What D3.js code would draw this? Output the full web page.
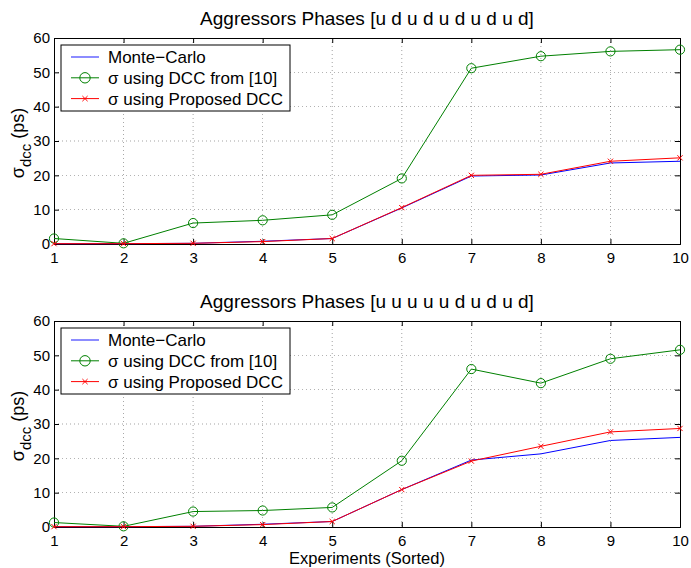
<!DOCTYPE html>
<html>
<head>
    <script src="https://d3js.org/d3.v7.min.js"></script>
    <style>
        body { margin: 0; background: #fff; }
        text { font-family: "Liberation Sans", Arial, sans-serif; }
    </style>
</head>
<body>
    <div id="cont"></div>
    <script>
        // data
        var experiments = [1, 2, 3, 4, 5, 6, 7, 8, 9, 10];
        var yTicks = [0, 10, 20, 30, 40, 50, 60];

        var titleTop = "Aggressors Phases [u d u d u d u d u d]";
        var mcTop = [0.1, 0.1, 0.2, 0.8, 1.6, 10.5, 19.8, 20.1, 23.6, 24.1];
        var dccTop = [1.6, 0.2, 6.1, 6.9, 8.5, 19.1, 51.2, 54.7, 56.1, 56.6];
        var propTop = [0.1, 0.1, 0.2, 0.7, 1.6, 10.6, 20.0, 20.3, 24.1, 25.1];

        var titleBot = "Aggressors Phases [u u u u u d u d u d]";
        var mcBot = [0.1, 0.1, 0.2, 0.8, 1.6, 10.9, 19.5, 21.3, 25.2, 26.1];
        var dccBot = [1.3, 0.2, 4.5, 4.8, 5.7, 19.3, 46.0, 41.9, 49.0, 51.6];
        var propBot = [0.1, 0.1, 0.2, 0.7, 1.6, 10.9, 19.2, 23.5, 27.7, 28.7];

        var legendLabels = ["Monte\u2212Carlo", "\u03c3 using DCC from [10]", "\u03c3 using Proposed DCC"];

        var svg = d3.select("#cont").append("svg")
            .attr("width", 691)
            .attr("height", 568);

        var left = 54, right = 680;
        var r = 4.6, s = 2.6;

        var x = d3.scaleLinear().domain([1, 10]).range([left, right]);

        function cross(cx, cy) {
            return "M" + (cx - s) + "," + (cy - s) + "L" + (cx + s) + "," + (cy + s) +
                "M" + (cx - s) + "," + (cy + s) + "L" + (cx + s) + "," + (cy - s);
        }

        function drawPanel(top, bottom, title, mc, dcc, prop, xlabel) {
            var y = d3.scaleLinear().domain([0, 60]).range([bottom, top]);
            var g = svg.append("g");

            // grid
            g.selectAll(".gx").data(experiments.slice(1, -1)).enter()
                .append("line")
                .attr("x1", function (d) { return x(d); })
                .attr("x2", function (d) { return x(d); })
                .attr("y1", top).attr("y2", bottom)
                .attr("stroke", "#000").attr("stroke-width", 0.6)
                .attr("stroke-dasharray", "1,3").attr("opacity", 0.6);
            g.selectAll(".gy").data(yTicks.slice(1, -1)).enter()
                .append("line")
                .attr("y1", function (d) { return y(d); })
                .attr("y2", function (d) { return y(d); })
                .attr("x1", left).attr("x2", right)
                .attr("stroke", "#000").attr("stroke-width", 0.6)
                .attr("stroke-dasharray", "1,3").attr("opacity", 0.6);

            // axes (ticks inward, on all sides)
            var ax = g.append("g").attr("transform", "translate(0," + bottom + ")")
                .call(d3.axisBottom(x).tickValues(experiments).tickSize(-5).tickPadding(8).tickFormat(d3.format("d")));
            var axTop = g.append("g").attr("transform", "translate(0," + top + ")")
                .call(d3.axisTop(x).tickValues(experiments).tickSize(-5).tickFormat(""));
            var ay = g.append("g").attr("transform", "translate(" + left + ",0)")
                .call(d3.axisLeft(y).tickValues(yTicks).tickSize(-5).tickPadding(4));
            var ayR = g.append("g").attr("transform", "translate(" + right + ",0)")
                .call(d3.axisRight(y).tickValues(yTicks).tickSize(-5).tickFormat(""));
            [ax, axTop, ay, ayR].forEach(function (a) {
                a.select(".domain").attr("stroke", "#000").attr("stroke-width", 1);
                a.selectAll("text").attr("font-size", 15).attr("fill", "#000")
                    .attr("font-family", "Liberation Sans, Arial, sans-serif");
            });
            ax.selectAll("text").attr("dy", "0.71em");

            var line = d3.line()
                .x(function (d, i) { return x(experiments[i]); })
                .y(function (d) { return y(d); });

            g.append("path").datum(dcc).attr("d", line)
                .attr("fill", "none").attr("stroke", "#008000").attr("stroke-width", 1);
            g.selectAll(".circ").data(dcc).enter().append("circle")
                .attr("cx", function (d, i) { return x(experiments[i]); })
                .attr("cy", function (d) { return y(d); })
                .attr("r", r)
                .attr("fill", "none").attr("stroke", "#008000").attr("stroke-width", 1);

            g.append("path").datum(mc).attr("d", line)
                .attr("fill", "none").attr("stroke", "#0000ff").attr("stroke-width", 1);

            g.append("path").datum(prop).attr("d", line)
                .attr("fill", "none").attr("stroke", "#ff0000").attr("stroke-width", 1);
            g.selectAll(".xm").data(prop).enter().append("path")
                .attr("d", function (d, i) { return cross(x(experiments[i]), y(d)); })
                .attr("stroke", "#ff0000").attr("stroke-width", 1).attr("fill", "none");

            // title
            g.append("text").attr("x", (left + right) / 2).attr("y", top - 13)
                .attr("text-anchor", "middle").attr("font-size", 19).text(title);

            // y label
            var yl = g.append("text")
                .attr("transform", "translate(24," + ((top + bottom) / 2 + 2) + ") rotate(-90)")
                .attr("text-anchor", "middle").attr("font-size", 18);
            yl.append("tspan").text("\u03c3");
            yl.append("tspan").attr("font-size", 15).attr("dy", 7).text("dcc");
            yl.append("tspan").attr("dy", -7).text(" (ps)");

            if (xlabel) {
                g.append("text").attr("x", (left + right) / 2).attr("y", bottom + 37)
                    .attr("text-anchor", "middle").attr("font-size", 16.5).text(xlabel);
            }

            // legend
            var lg = g.append("g").attr("transform", "translate(" + (left + 7) + "," + (top + 7) + ")");
            lg.append("rect").attr("width", 229).attr("height", 66)
                .attr("fill", "#fff").attr("stroke", "#000").attr("stroke-width", 1);
            var colors = ["#0000ff", "#008000", "#ff0000"];
            legendLabels.forEach(function (lab, i) {
                var ly = 12 + i * 20.8;
                lg.append("line").attr("x1", 10).attr("x2", 38).attr("y1", ly).attr("y2", ly)
                    .attr("stroke", colors[i]).attr("stroke-width", i === 0 ? 1.5 : 1)
                    .attr("opacity", i === 0 ? 0.6 : 1);
                if (i === 1) {
                    lg.append("circle").attr("cx", 24).attr("cy", ly).attr("r", r + 0.6)
                        .attr("fill", "none").attr("stroke", colors[i]);
                }
                if (i === 2) {
                    lg.append("path").attr("d", cross(24, ly))
                        .attr("stroke", colors[i]).attr("fill", "none");
                }
                lg.append("text").attr("x", 47).attr("y", ly + 6)
                    .attr("font-size", 17).text(lab);
            });
        }

        drawPanel(38, 244, titleTop, mcTop, dccTop, propTop, null);
        drawPanel(321, 527, titleBot, mcBot, dccBot, propBot, "Experiments (Sorted)");
    </script>
</body>
</html>
